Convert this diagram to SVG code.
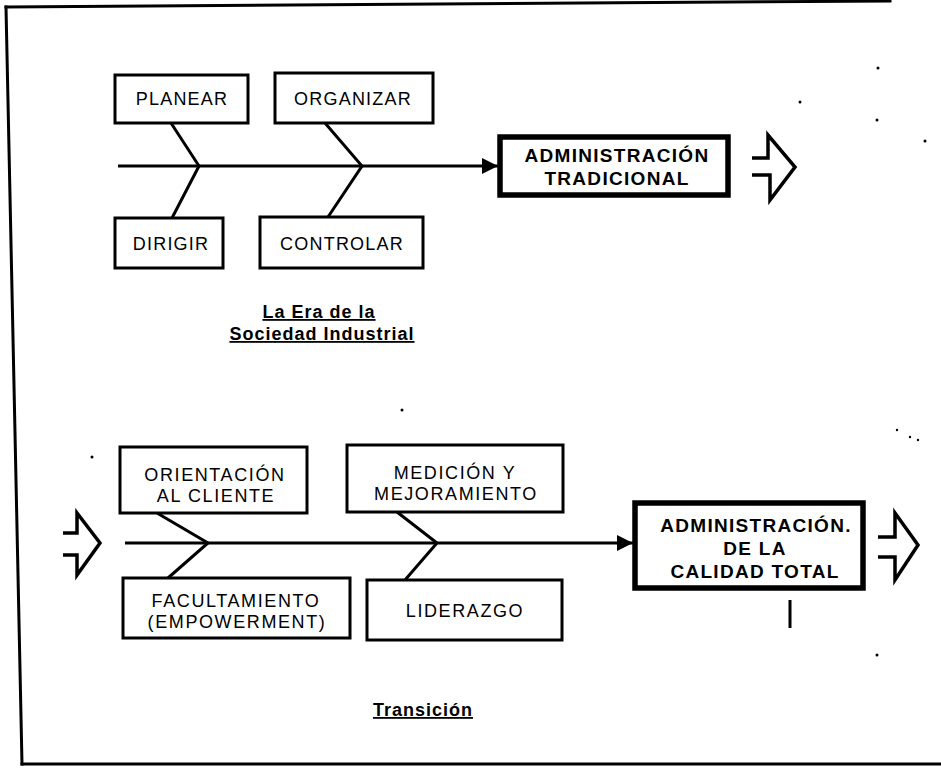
<svg xmlns="http://www.w3.org/2000/svg" width="941" height="769" viewBox="0 0 941 769">
<defs>
<style>
.frame{fill:none;stroke:#000;stroke-width:3;stroke-linecap:square}
.box{fill:#fff;stroke:#000;stroke-width:3}
.bbox{fill:#fff;stroke:#000;stroke-width:5.5}
.ln{fill:none;stroke:#000;stroke-width:3;stroke-linejoin:miter}
.open{fill:none;stroke:#000;stroke-width:3.5;stroke-linejoin:miter}
.t{font-family:"Liberation Sans",Arial,sans-serif;font-size:18px;fill:#000;text-anchor:middle}
.t1{letter-spacing:1.2px}
.t2{letter-spacing:1.6px}
.tb{font-family:"Liberation Sans",Arial,sans-serif;font-size:19px;font-weight:bold;fill:#000;text-anchor:middle;letter-spacing:1.3px}
.cap{font-family:"Liberation Sans",Arial,sans-serif;font-size:18px;font-weight:bold;fill:#000;text-anchor:middle;letter-spacing:1px;text-decoration:underline}
.dot{fill:#000}
</style>
<marker id="ah" viewBox="0 0 10 10" refX="10" refY="5" markerWidth="5.5" markerHeight="5.5" orient="auto">
<path d="M0,0 L10,5 L0,10 Z" fill="#000"/>
</marker>
</defs>
<rect width="941" height="769" fill="#fff"/>
<g id="frame">
<path class="frame" d="M6,7 L890,1"/>
<path class="frame" d="M6,7 L22,764"/>
<path class="frame" d="M22,764 L941,764"/>
</g>
<g id="connectors">
<line class="ln" x1="118" y1="166" x2="498" y2="166" marker-end="url(#ah)"/>
<polyline class="ln" points="171,123 199,166 172,218"/>
<polyline class="ln" points="325,123 362,166 328,217"/>
<line class="ln" x1="125" y1="543" x2="633" y2="543" marker-end="url(#ah)"/>
<polyline class="ln" points="157,513 208,543 168,578"/>
<polyline class="ln" points="397,512 437,543 405,580"/>
</g>
<g id="open-arrows">
<path class="open" d="M752,158 H768 V135 L795,167 L770,200 V175 H752"/>
<path class="open" d="M63,533 H77 V513 L100,543 L77,575 V555 H63"/>
<path class="open" d="M878,537 H895 V513 L918,545 L895,580 V557 H878"/>
</g>
<g id="n-planear">
<rect class="box" x="115" y="75" width="133" height="48"/>
<text class="t t1" x="182" y="105">PLANEAR</text>
</g>
<g id="n-organizar">
<rect class="box" x="275" y="73" width="158" height="50"/>
<text class="t t1" x="353" y="105">ORGANIZAR</text>
</g>
<g id="n-dirigir">
<rect class="box" x="115" y="218" width="108" height="50"/>
<text class="t t1" x="171" y="250">DIRIGIR</text>
</g>
<g id="n-controlar">
<rect class="box" x="260" y="217" width="163" height="51"/>
<text class="t t1" x="342" y="250">CONTROLAR</text>
</g>
<g id="n-trad">
<rect class="bbox" x="500" y="137" width="228" height="58"/>
<text class="tb" x="617" y="162">ADMINISTRACIÓN</text>
<text class="tb" x="617" y="185">TRADICIONAL</text>
</g>
<g id="n-era">
<text class="cap" x="319" y="318">La Era de la</text>
<text class="cap" x="322" y="340">Sociedad Industrial</text>
</g>
<g id="n-orientacion">
<rect class="box" x="120" y="447" width="187" height="66"/>
<text class="t t2" x="215" y="481">ORIENTACIÓN</text>
<text class="t t2" x="216" y="502">AL CLIENTE</text>
</g>
<g id="n-medicion">
<rect class="box" x="347" y="445" width="216" height="67"/>
<text class="t t2" x="455" y="479">MEDICIÓN Y</text>
<text class="t t2" x="456" y="500">MEJORAMIENTO</text>
</g>
<g id="n-facultamiento">
<rect class="box" x="123" y="578" width="227" height="60"/>
<text class="t t2" x="236" y="607">FACULTAMIENTO</text>
<text class="t t2" x="237" y="628">(EMPOWERMENT)</text>
</g>
<g id="n-liderazgo">
<rect class="box" x="367" y="580" width="195" height="60"/>
<text class="t t2" x="465" y="617">LIDERAZGO</text>
</g>
<g id="n-calidad">
<rect class="bbox" x="635" y="503" width="228" height="85"/>
<text class="tb" x="756" y="532">ADMINISTRACIÓN.</text>
<text class="tb" x="755" y="555">DE LA</text>
<text class="tb" x="755" y="578">CALIDAD TOTAL</text>
</g>
<g id="n-transicion">
<text class="cap" x="423" y="716">Transición</text>
</g>
<g id="marks">
<line class="ln" x1="790" y1="600" x2="790" y2="628"/>
<circle class="dot" cx="878" cy="68" r="1.5"/>
<circle class="dot" cx="800" cy="102" r="1.5"/>
<circle class="dot" cx="877" cy="120" r="1.5"/>
<circle class="dot" cx="925" cy="141" r="1.5"/>
<circle class="dot" cx="402" cy="410" r="1.5"/>
<circle class="dot" cx="92" cy="457" r="1.5"/>
<circle class="dot" cx="897" cy="430" r="1.2"/>
<circle class="dot" cx="910" cy="437" r="1.2"/>
<circle class="dot" cx="918" cy="440" r="1.2"/>
<circle class="dot" cx="877" cy="655" r="1.5"/>
</g>
</svg>
